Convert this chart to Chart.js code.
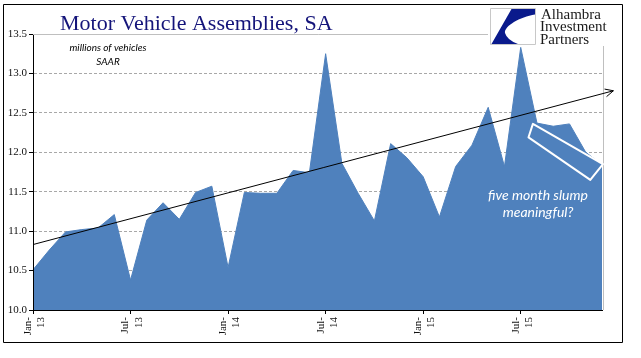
<!DOCTYPE html>
<html>
<head>
<meta charset="utf-8">
<script src="https://cdn.jsdelivr.net/npm/chart.js@4/dist/chart.umd.min.js"></script>
<style>
  html, body { margin: 0; padding: 0; background: #fff; }
  #wrap { width: 641px; height: 358px; }
</style>
</head>
<body>
<div id="wrap"><canvas id="chart" width="641" height="358"></canvas></div>
<script>
const months = [
  'Jan-13', 'Feb-13', 'Mar-13', 'Apr-13', 'May-13', 'Jun-13', 'Jul-13', 'Aug-13', 'Sep-13', 'Oct-13', 'Nov-13', 'Dec-13',
  'Jan-14', 'Feb-14', 'Mar-14', 'Apr-14', 'May-14', 'Jun-14', 'Jul-14', 'Aug-14', 'Sep-14', 'Oct-14', 'Nov-14', 'Dec-14',
  'Jan-15', 'Feb-15', 'Mar-15', 'Apr-15', 'May-15', 'Jun-15', 'Jul-15', 'Aug-15', 'Sep-15', 'Oct-15', 'Nov-15', 'Dec-15',
];
const assemblies = [
  10.51, 10.76, 10.99, 11.02, 11.04, 11.21, 10.38, 11.14, 11.36, 11.15, 11.49, 11.57,
  10.54, 11.49, 11.48, 11.48, 11.77, 11.74, 13.25, 11.86, 11.48, 11.13, 12.11, 11.93,
  11.69, 11.18, 11.82, 12.09, 12.57, 11.82, 13.33, 12.37, 12.33, 12.36, 12.00, 11.84,
];
const yTicks = [10.0, 10.5, 11.0, 11.5, 12.0, 12.5, 13.0, 13.5];

// trend arrow and slump box, in (month index, value)
const trendStart = [0, 10.83];
const trendEnd = [35.7, 12.78];
const slumpBox = [[30.75, 12.36], [30.48, 12.19], [34.28, 11.65], [35.06, 11.85]];

const titleText = 'Motor Vehicle Assemblies, SA';
const unitsText = ['millions of vehicles', 'SAAR'];
const noteText = ['five month slump', 'meaningful?'];
const logoText = ['Alhambra', 'Investment', 'Partners'];

const serif = '"Liberation Serif", "Times New Roman", serif';

const decorations = {
  id: 'decorations',
  beforeDraw(chart) {
    const ctx = chart.ctx;
    ctx.save();
    ctx.fillStyle = '#fff';
    ctx.fillRect(0, 0, chart.width, chart.height);
    ctx.restore();
  },
  afterDraw(chart) {
    const ctx = chart.ctx;
    const { x, y } = chart.scales;
    const area = chart.chartArea;
    const px = p => [x.getPixelForValue(p[0]), y.getPixelForValue(p[1])];

    ctx.save();

    // light border on top and right of plot area
    ctx.strokeStyle = '#bfbfbf';
    ctx.lineWidth = 1;
    ctx.beginPath();
    ctx.moveTo(area.left, Math.round(area.top) + 0.5);
    ctx.lineTo(area.right + 1.5, Math.round(area.top) + 0.5);
    ctx.lineTo(area.right + 1.5, area.bottom);
    ctx.stroke();

    // trend arrow
    const a = px(trendStart);
    const b = px(trendEnd);
    ctx.strokeStyle = '#000';
    ctx.lineWidth = 1;
    ctx.beginPath();
    ctx.moveTo(a[0], a[1]);
    ctx.lineTo(b[0], b[1]);
    ctx.stroke();
    const ang = Math.atan2(b[1] - a[1], b[0] - a[0]);
    ctx.beginPath();
    ctx.moveTo(b[0] - 9 * Math.cos(ang - 0.45), b[1] - 9 * Math.sin(ang - 0.45));
    ctx.lineTo(b[0], b[1]);
    ctx.lineTo(b[0] - 9 * Math.cos(ang + 0.45), b[1] - 9 * Math.sin(ang + 0.45));
    ctx.stroke();

    // slump box
    ctx.strokeStyle = '#fff';
    ctx.lineWidth = 2;
    ctx.lineJoin = 'round';
    ctx.beginPath();
    slumpBox.forEach((p, i) => {
      const q = px(p);
      if (i === 0) ctx.moveTo(q[0], q[1]); else ctx.lineTo(q[0], q[1]);
    });
    ctx.closePath();
    ctx.stroke();

    ctx.fillStyle = '#fff';
    ctx.font = 'italic 14px Lato, "Open Sans", sans-serif';
    ctx.textAlign = 'center';
    ctx.textBaseline = 'alphabetic';
    ctx.fillText(noteText[0], 538, 200);
    ctx.fillText(noteText[1], 538, 217);

    // units note
    ctx.fillStyle = '#000';
    ctx.font = 'italic 10px Lato, "Open Sans", sans-serif';
    ctx.fillText(unitsText[0], 108, 51);
    ctx.fillText(unitsText[1], 108, 65);

    // title
    ctx.fillStyle = '#14147a';
    ctx.font = '22px ' + serif;
    ctx.textAlign = 'left';
    ctx.fillText(titleText, 60, 30);

    // logo
    ctx.fillStyle = '#fff';
    ctx.fillRect(488, 5, 133, 41);
    ctx.strokeStyle = '#c8c8c8';
    ctx.lineWidth = 1;
    ctx.strokeRect(490.5, 8.5, 45, 36);
    const lx = 490, ly = 8;
    ctx.fillStyle = '#0a1a8c';
    ctx.beginPath();
    ctx.moveTo(lx + 21.5, ly + 1);
    ctx.lineTo(lx + 45, ly + 1);
    ctx.lineTo(lx + 45, ly + 6.5);
    ctx.bezierCurveTo(lx + 30, ly + 9, lx + 14, ly + 18, lx + 15, ly + 25);
    ctx.quadraticCurveTo(lx + 17, ly + 32, lx + 28, ly + 36);
    ctx.lineTo(lx + 1.5, ly + 36);
    ctx.closePath();
    ctx.fill();

    ctx.fillStyle = '#1a1a1a';
    ctx.font = '15px ' + serif;
    ctx.fillText(logoText[0], 541, 18.5);
    ctx.fillText(logoText[1], 540, 31);
    ctx.fillText(logoText[2], 540, 43.5);

    // outer frame
    ctx.strokeStyle = '#000';
    ctx.lineWidth = 1;
    ctx.strokeRect(3.5, 4.5, 619, 338);

    ctx.restore();
  },
};

new Chart(document.getElementById('chart').getContext('2d'), {
  type: 'line',
  data: {
    labels: months,
    datasets: [
      {
        label: 'Assemblies',
        data: assemblies,
        fill: 'start',
        backgroundColor: '#4f81bd',
        borderColor: '#4f81bd',
        borderWidth: 1,
        pointRadius: 0,
        tension: 0,
      },
    ],
  },
  options: {
    responsive: false,
    animation: false,
    layout: { padding: { left: 3, top: 34, right: 39, bottom: 0 } },
    plugins: { legend: { display: false }, tooltip: { enabled: false } },
    scales: {
      x: {
        type: 'category',
        offset: false,
        afterBuildTicks: axis => {
          axis.ticks = axis.ticks.filter(t => t.value % 6 === 0);
        },
        afterFit: axis => { axis.height = 48; },
        grid: { drawOnChartArea: false, drawTicks: true, tickLength: 4, tickColor: '#000' },
        border: { display: true, color: '#000', width: 1, z: 1 },
        ticks: {
          autoSkip: false,
          minRotation: 90,
          maxRotation: 90,
          padding: 3,
          labelOffset: -5,
          color: '#111',
          font: { family: serif, size: 11 },
          callback: value => {
            const parts = months[value].split('-');
            return [parts[0] + '-', parts[1]];
          },
        },
      },
      y: {
        min: 10,
        max: 13.5,
        afterBuildTicks: axis => {
          axis.ticks = yTicks.map(v => ({ value: v }));
        },
        afterFit: axis => { axis.width = 30; },
        grid: {
          color: ctx => (ctx.tick && (ctx.tick.value === 13.5 || ctx.tick.value === 10) ? 'rgba(0,0,0,0)' : '#a8a8a8'),
          tickColor: '#000',
          tickLength: 4,
        },
        border: { display: true, color: '#000', width: 1, dash: [3, 2], z: 1 },
        ticks: {
          padding: 2,
          color: '#111',
          font: { family: serif, size: 11 },
          callback: v => Number(v).toFixed(1),
        },
      },
    },
  },
  plugins: [decorations],
});
</script>
</body>
</html>
